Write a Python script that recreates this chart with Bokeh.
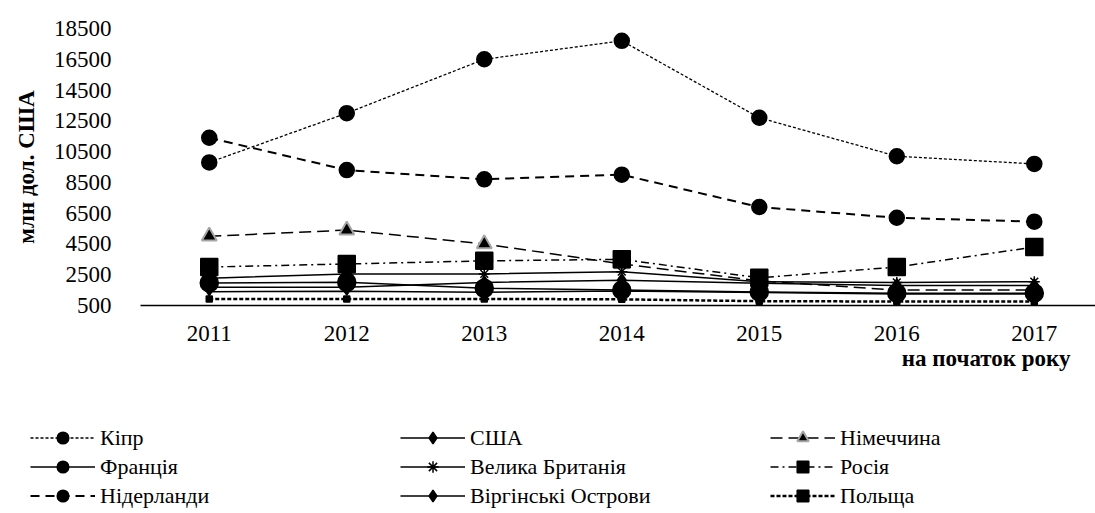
from bokeh.plotting import figure
from bokeh.layouts import column, row
from bokeh.models import Legend, LegendItem, Title, FixedTicker, Range1d
from bokeh.embed import file_html
from bokeh.resources import INLINE

# ---- data ----
years = [2011, 2012, 2013, 2014, 2015, 2016, 2017]
year_labels = ["2011", "2012", "2013", "2014", "2015", "2016", "2017"]
cyprus = [9800, 13000, 16500, 17700, 12700, 10200, 9700]
usa = [1400, 1430, 1360, 1450, 1350, 1250, 1250]
germany = [5000, 5400, 4500, 3200, 2100, 1500, 1500]
france = [1970, 2010, 1620, 1500, 1380, 1300, 1300]
uk = [2270, 2550, 2550, 2700, 2050, 2000, 2050]
russia = [3000, 3200, 3400, 3500, 2300, 3000, 4300]
netherlands = [11400, 9300, 8700, 9000, 6900, 6200, 5950]
virgin = [1690, 1690, 2000, 2140, 1950, 1800, 1800]
poland = [930, 930, 930, 900, 780, 760, 760]
y_ticks = [500, 2500, 4500, 6500, 8500, 10500, 12500, 14500, 16500, 18500]

FONT = "Liberation Serif"
LFONT = "'Liberation Serif', serif"

p = figure(width=1095, height=385, output_backend="svg", toolbar_location=None,
           x_range=Range1d(2010.5, 2017.445), y_range=Range1d(500, 18500),
           min_border_left=140, min_border_right=0, min_border_top=28,
           min_border_bottom=80)
p.frame_width = 955
p.frame_height = 277
p.outline_line_color = None
p.grid.visible = False
p.background_fill_color = "white"
p.border_fill_color = "white"

# axes
p.yaxis.ticker = FixedTicker(ticks=y_ticks)
p.yaxis.axis_line_color = None
p.yaxis.major_tick_line_color = None
p.yaxis.minor_tick_line_color = None
p.yaxis.major_label_standoff = 23
p.yaxis.major_label_text_font = FONT
p.yaxis.major_label_text_font_size = "23px"
p.yaxis.major_label_text_color = "black"
p.yaxis.axis_label = "млн дол. США"
p.yaxis.axis_label_text_font = FONT
p.yaxis.axis_label_text_font_size = "23px"
p.yaxis.axis_label_text_font_style = "bold"
p.yaxis.axis_label_text_color = "black"
p.yaxis.axis_label_standoff = 12

p.xaxis.ticker = FixedTicker(ticks=years)
p.xaxis.major_label_overrides = {y: s for y, s in zip(years, year_labels)}
p.xaxis.axis_line_color = "black"
p.xaxis.axis_line_width = 1.5
p.xaxis.major_tick_line_color = None
p.xaxis.minor_tick_line_color = None
p.xaxis.major_label_standoff = 14
p.xaxis.major_label_text_font = FONT
p.xaxis.major_label_text_font_size = "23px"
p.xaxis.major_label_text_color = "black"

xtitle = Title(text="на початок року", align="right", offset=25, standoff=0,
               text_font=FONT, text_font_size="23px", text_font_style="bold",
               text_color="black")
p.add_layout(xtitle, "below")

series = [
    # name, data, dash, line width, marker, size, line color of marker
    ("Кіпр", cyprus, "3 2", 1.3, "circle", 15, "black"),
    ("США", usa, "solid", 1.5, "diamond", 8, "black"),
    ("Німеччина", germany, "12 6", 1.5, "triangle", 15, "#a6a6a6"),
    ("Франція", france, "solid", 1.5, "circle", 18, "black"),
    ("Велика Британія", uk, "solid", 1.5, "asterisk", 11, "black"),
    ("Росія", russia, "8 4 2 4", 1.5, "square", 17, "black"),
    ("Нідерланди", netherlands, "9 6", 2, "circle", 15, "black"),
    ("Віргінські Острови", virgin, "solid", 1.5, "diamond", 13, "black"),
    ("Польща", poland, "4 2", 2.5, "square", 6, "black"),
]

# legend figure (holds the legend below the chart)
lf = figure(width=1095, height=128, output_backend="svg", toolbar_location=None,
            x_axis_location=None, y_axis_location=None,
            x_range=Range1d(0, 1), y_range=Range1d(0, 1),
            min_border=0, min_border_left=0, min_border_right=0,
            min_border_top=0, min_border_bottom=0)
lf.outline_line_color = None
lf.grid.visible = False
lf.background_fill_color = "white"
lf.border_fill_color = "white"

items = []
for name, data, dash, lw, marker, size, mlc in series:
    mlw = 2 if marker == "triangle" else 1.5
    p.line(years, data, line_color="black", line_width=lw, line_dash=dash)
    p.scatter(years, data, marker=marker, size=size, fill_color="black",
              line_color=mlc, line_width=mlw)
    l1 = lf.line(years, data, line_color="black", line_width=lw, line_dash=dash,
                 visible=False)
    l2 = lf.scatter(years, data, marker=marker, size=size, fill_color="black",
                    line_color=mlc, line_width=mlw, visible=False)
    items.append(LegendItem(label=name, renderers=[l1, l2]))

lg = Legend(items=items, location=(30, 3), orientation="horizontal", ncols=3,
            border_line_color=None, background_fill_alpha=0,
            inactive_fill_alpha=0,
            padding=0, margin=0, spacing=0,
            glyph_width=65, glyph_height=29, label_height=29, label_width=300,
            label_standoff=5,
            label_text_font=LFONT, label_text_font_size="22px",
            label_text_color="black")
lf.add_layout(lg)

layout = column(row(p), row(lf), spacing=0)
open("out.html", "w").write(file_html(layout, INLINE))
